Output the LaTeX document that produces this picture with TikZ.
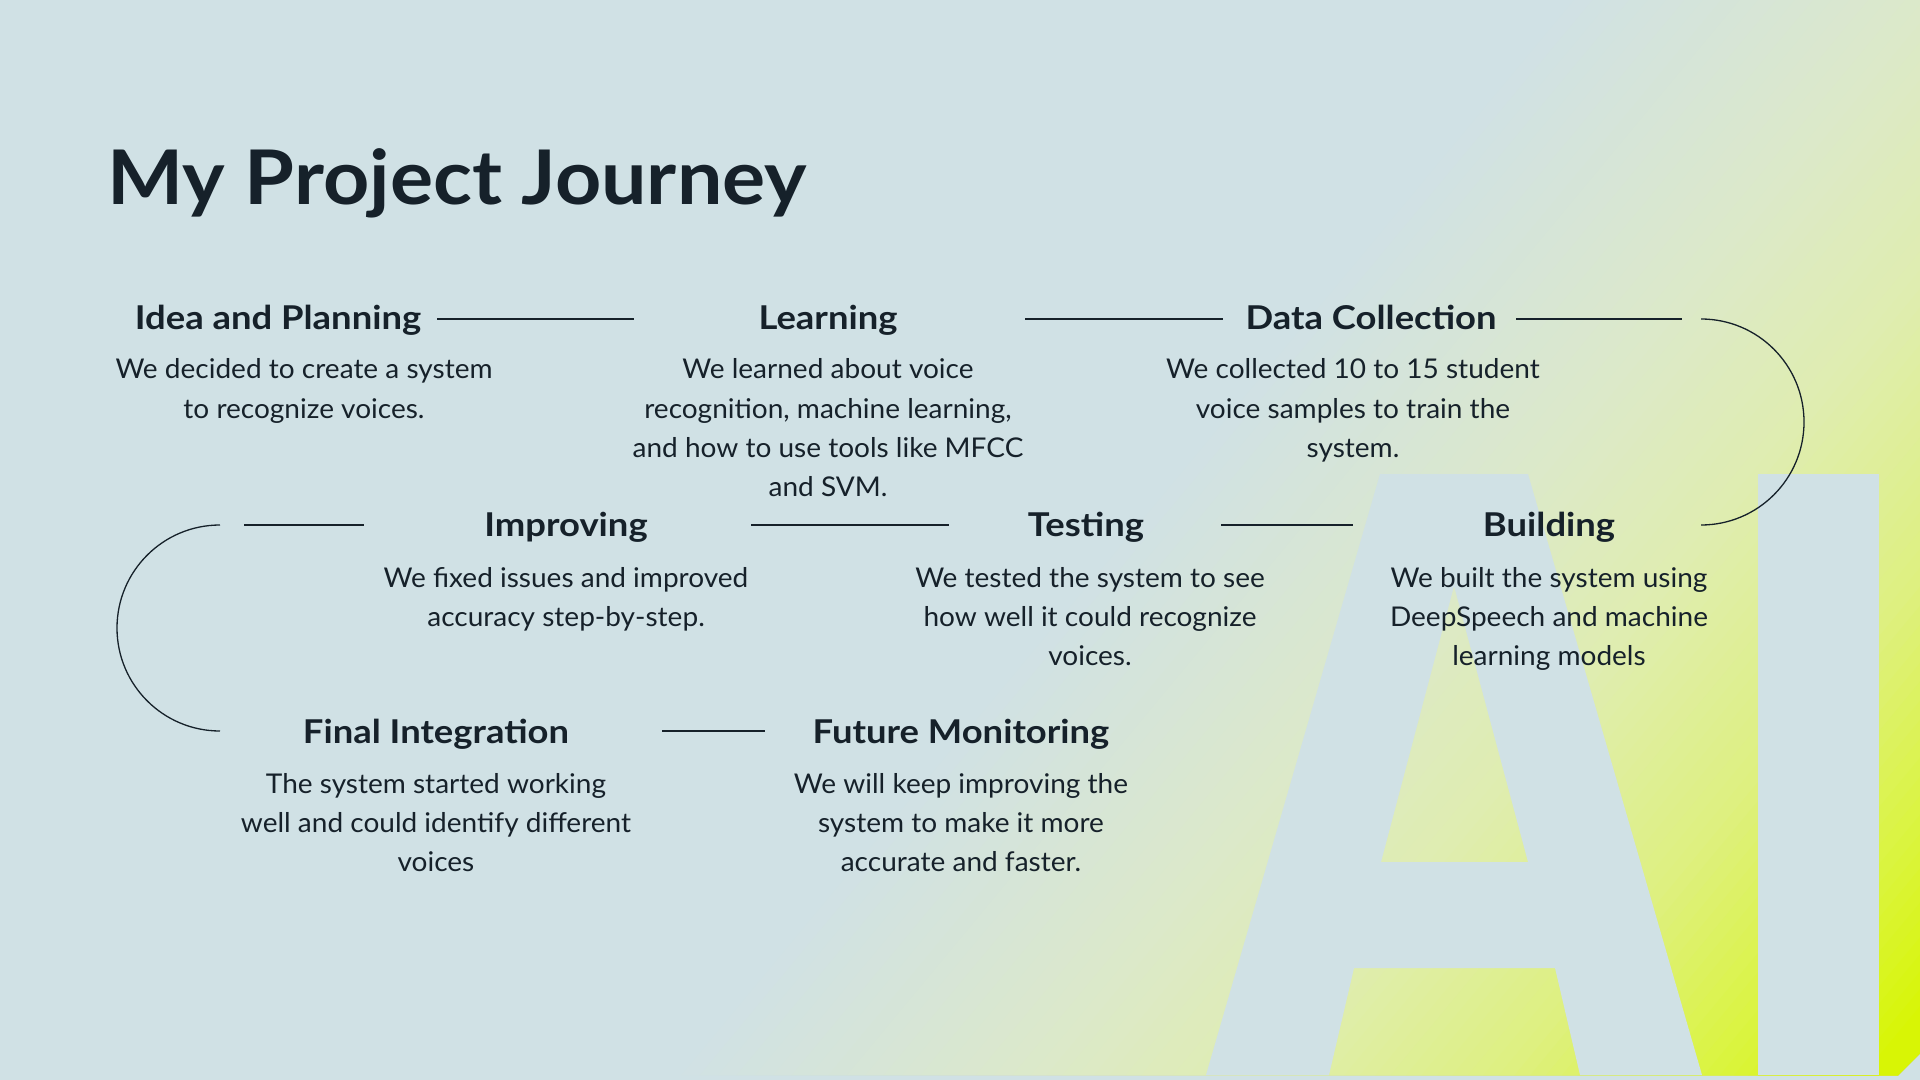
\documentclass[tikz,border=0pt]{standalone}
\usepackage{fontspec}
\setmainfont{Lato}
\newfontfamily\titlefont{Lato}[FakeStretch=1.07]
\newfontfamily\headfont{Lato}[FakeStretch=1.11]
\newfontfamily\bodyfont{Lato}[FakeStretch=1.03]
\definecolor{bg}{HTML}{D0E1E5}
\definecolor{ink}{HTML}{16212A}
\definecolor{g1}{HTML}{DCE9C9}
\definecolor{g2}{HTML}{DFEDB0}
\definecolor{g3}{HTML}{DEF080}
\definecolor{g4}{HTML}{DAF43A}
\definecolor{g5}{HTML}{D8F505}
\newcommand{\desc}[1]{\parbox[t]{300pt}{\centering\setlength{\baselineskip}{19.6pt}#1\par}}
\tikzset{
  title/.style={anchor=base west, inner sep=0pt, text=ink, font=\titlefont\fontsize{37.7}{40}\selectfont\bfseries},
  head/.style={anchor=base, inner sep=0pt, text=ink, font=\headfont\fontsize{16.4}{18}\selectfont\bfseries},
  body/.style={anchor=base, inner sep=0pt, text=ink, font=\bodyfont\fontsize{13.6}{19.6}\selectfont},
  link/.style={draw=ink, line width=0.8pt},
  curveline/.style={draw=ink, line width=0.65pt}
}
\begin{document}
\begin{tikzpicture}[x=0.5pt, y=-0.5pt]
\useasboundingbox (0,0) rectangle (1920,1080);
\fill[bg] (0,0) rectangle (1920,1080);

% diagonal wash from pale blue to lime
\begin{scope}
  \clip (0,0) -- (1920,0) -- (1920,1053) -- (1898,1075) -- (0,1075) -- cycle;
  \begin{scope}[rotate=-39.7]
    \foreach \pa/\pb/\ca/\cb/\n in {1197/1480/bg/g1/20, 1480/1650/g1/g2/14, 1650/1840/g2/g3/16, 1840/2010/g3/g4/14, 2010/2120/g4/g5/10}{
      \foreach \k in {0,...,\numexpr\n-1\relax}{
        \pgfmathsetmacro\pp{\pa+(\pb-\pa)*\k/\n}
        \pgfmathsetmacro\pc{100*\k/\n}
        \fill[\cb!\pc!\ca] (\pp,-4000) rectangle (6000,4000);
      }
    }
    \fill[g5] (2120,-4000) rectangle (6000,4000);
  \end{scope}
\end{scope}

% large "AI" letters
\fill[bg, even odd rule]
  (1206,1075) -- (1380,474) -- (1528,474) -- (1702,1075) -- (1580,1075)
  -- (1555,968) -- (1354,968) -- (1329,1075) -- cycle
  (1381,862) -- (1454,586) -- (1528,862) -- cycle;
\fill[bg] (1758,474) rectangle (1879,1075);

% title
\node[title] (ttl) at (107,205) {My Project Journey};

% row 1
\node[head] (idea) at (278,329) {Idea and Planning};
\node[body] (ideaT) at (304,379) {\desc{We decided to create a system\\to recognize voices.}};
\node[head] (learn) at (828,329) {Learning};
\node[body] (learnT) at (828,379) {\desc{We learned about voice\\recognition, machine learning,\\and how to use tools like MFCC\\and SVM.}};
\node[head] (data) at (1371,329) {Data Collection};
\node[body] (dataT) at (1353,379) {\desc{We collected 10 to 15 student\\voice samples to train the\\system.}};

% row 2
\node[head] (impr) at (566,536) {Improving};
\node[body] (imprT) at (566,587) {\desc{We fixed issues and improved\\accuracy step-by-step.}};
\node[head] (test) at (1086,536) {Testing};
\node[body] (testT) at (1090,587) {\desc{We tested the system to see\\how well it could recognize\\voices.}};
\node[head] (build) at (1549,536) {Building};
\node[body] (buildT) at (1549,587) {\desc{We built the system using\\DeepSpeech and machine\\learning models}};

% row 3
\node[head] (final) at (436,743) {Final Integration};
\node[body] (finalT) at (436,793) {\desc{The system started working\\well and could identify different\\voices}};
\node[head] (future) at (961,743) {Future Monitoring};
\node[body] (futureT) at (961,793) {\desc{We will keep improving the\\system to make it more\\accurate and faster.}};

% connector end points
\coordinate (a1) at (437,319);  \coordinate (a2) at (634,319);
\coordinate (b1) at (1025,319); \coordinate (b2) at (1223,319);
\coordinate (c1) at (1516,319); \coordinate (c2) at (1682,319);
\coordinate (r1) at (1701,319);
\coordinate (d1) at (1221,525); \coordinate (d2) at (1353,525);
\coordinate (e1) at (751,525);  \coordinate (e2) at (949,525);
\coordinate (f1) at (244,525);  \coordinate (f2) at (364,525);
\coordinate (r2) at (220,525);
\coordinate (h1) at (662,731);  \coordinate (h2) at (765,731);

% connectors
\draw[link] (a1) -- (a2);
\draw[link] (b1) -- (b2);
\draw[link] (c1) -- (c2);
\draw[curveline] (r1) arc[start angle=-90, end angle=90, radius=103];
\draw[link] (d1) -- (d2);
\draw[link] (e1) -- (e2);
\draw[link] (f1) -- (f2);
\draw[curveline] (r2) arc[start angle=-90, end angle=-270, radius=103];
\draw[link] (h1) -- (h2);
\end{tikzpicture}
\end{document}
